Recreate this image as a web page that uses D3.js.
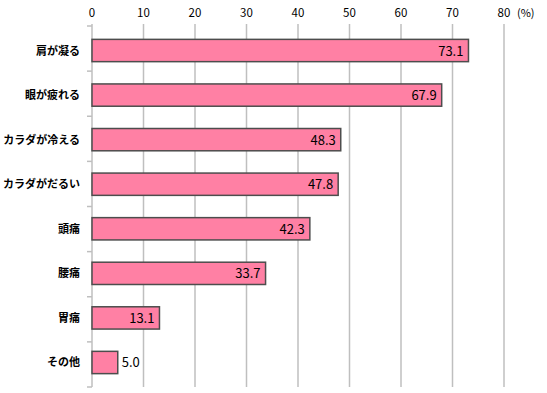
<!DOCTYPE html>
<html>
<head>
<meta charset="utf-8">
<script src="https://cdn.jsdelivr.net/npm/d3@7"></script>
<style>
body{margin:0;background:#fff;}
svg{display:block;font-family:"Noto Sans CJK JP","Noto Sans",sans-serif;}
</style>
</head>
<body>
<svg id="chart"></svg>
<script>
// 項目と割合(%)
let categories=["肩が凝る","眼が疲れる","カラダが冷える","カラダがだるい","頭痛","腰痛","胃痛","その他"];
let values=[73.1,67.9,48.3,47.8,42.3,33.7,13.1,5.0];
let ticks=[0,10,20,30,40,50,60,70,80];

let width=547, height=393;
let mLeft=92, mRight=504, mTop=26, mBottom=387;

let svg=d3.select("#chart")
.attr("width",width)
.attr("height",height)

let x=d3.scaleLinear().domain([0,80]).range([mLeft,mRight]);
let y=d3.scaleBand().domain(categories).range([mTop,mBottom]).paddingInner(0.5).paddingOuter(0.3);

// 目盛り線
svg.selectAll("line.grid")
.data(ticks.slice(1))
.enter()
.append("line")
.attr("class","grid")
.attr("x1",d=>x(d)).attr("x2",d=>x(d))
.attr("y1",mTop-2).attr("y2",mBottom)
.attr("stroke","#bfbfbf")
.attr("stroke-width",1.5)

// 上の目盛りラベル
svg.selectAll("text.tick")
.data(ticks)
.enter()
.append("text")
.attr("class","tick")
.attr("x",d=>x(d))
.attr("y",17)
.attr("text-anchor","middle")
.attr("font-size",11.5)
.attr("fill","#000")
.text(d=>d)

svg.append("text")
.attr("x",x(80)+13)
.attr("y",17)
.attr("font-size",11)
.text("(%)")

// 左の軸
svg.append("line")
.attr("x1",mLeft).attr("x2",mLeft)
.attr("y1",mTop-2).attr("y2",mBottom)
.attr("stroke","#bfbfbf")
.attr("stroke-width",1.5)

let step=(mBottom-mTop)/categories.length;
svg.selectAll("line.ytick")
.data(d3.range(categories.length+1))
.enter()
.append("line")
.attr("class","ytick")
.attr("x1",mLeft-5).attr("x2",mLeft)
.attr("y1",d=>mTop+d*step).attr("y2",d=>mTop+d*step)
.attr("stroke","#bfbfbf")
.attr("stroke-width",1.5)

// 棒
svg.selectAll("rect")
.data(values)
.enter()
.append("rect")
.attr("x",x(0))
.attr("y",(d,i)=>y(categories[i]))
.attr("width",d=>x(d)-x(0))
.attr("height",y.bandwidth())
.attr("fill","#ff80a4")
.attr("stroke","#4d4d4d")
.attr("stroke-width",1.5)

// 値
svg.selectAll("text.val")
.data(values)
.enter()
.append("text")
.attr("class","val")
.attr("x",d=>d<10 ? x(d)+4 : x(d)-5)
.attr("y",(d,i)=>y(categories[i])+y.bandwidth()/2+5)
.attr("text-anchor",d=>d<10 ? "start" : "end")
.attr("font-size",13)
.attr("fill","#000")
.text(d=>d.toFixed(1))

// 項目名
svg.selectAll("text.cat")
.data(categories)
.enter()
.append("text")
.attr("class","cat")
.attr("x",80)
.attr("y",d=>y(d)+y.bandwidth()/2+4)
.attr("text-anchor","end")
.attr("font-size",11)
.attr("font-weight","bold")
.attr("fill","#000")
.text(d=>d)
</script>
</body>
</html>
